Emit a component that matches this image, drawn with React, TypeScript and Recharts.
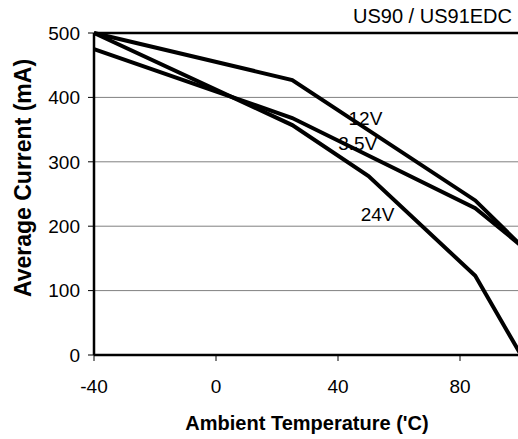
import { CartesianGrid, Line, LineChart, ReferenceDot, ReferenceLine, XAxis, YAxis } from "recharts";

// derating curves
const temps12 = [-40, 25, 85, 100];
const current12 = [500, 427, 240, 170];
const temps35 = [-40, 25, 85, 100];
const current35 = [475, 368, 228, 170];
const temps24 = [-40, 25, 50, 85, 100];
const current24 = [500, 357, 278, 123, 0];

const xTicks = [-40, 0, 40, 80];
const yTicks = [0, 100, 200, 300, 400, 500];

// where the curve names sit (data coords)
const curveLabels = [
  { name: "12V", x: 49, y: 368 },
  { name: "3.5V", x: 46.5, y: 329 },
  { name: "24V", x: 53, y: 218 },
];

const toRows = (xs: number[], ys: number[]) => xs.map((t, i) => ({ t, mA: ys[i] }));

const font = "'Liberation Sans', Arial, sans-serif";

export default function App() {
  return (
    <div
      style={{
        position: "absolute",
        left: 0,
        top: 0,
        width: 518,
        height: 439,
        overflow: "hidden",
        background: "#fff",
        fontFamily: font,
      }}
    >
      <LineChart width={521} height={439} margin={{ top: 33, right: 0, bottom: 0, left: 0 }}>
        <CartesianGrid vertical={false} stroke="#808080" strokeWidth={1} />
        <XAxis
          type="number"
          dataKey="t"
          domain={[-40, 100]}
          ticks={xTicks}
          height={84}
          axisLine={{ stroke: "#000", strokeWidth: 2.5 }}
          tickLine={{ stroke: "#000" }}
          tickSize={6}
          tickMargin={19}
          tick={{ fill: "#000", fontSize: 19, fontFamily: font }}
          allowDuplicatedCategory={false}
        />
        <YAxis
          type="number"
          domain={[0, 500]}
          ticks={yTicks}
          width={94}
          axisLine={{ stroke: "#000", strokeWidth: 2.5 }}
          tickLine={{ stroke: "#000" }}
          tickSize={6}
          tickMargin={8}
          tick={{ fill: "#000", fontSize: 19, fontFamily: font }}
        />
        <ReferenceLine y={500} stroke="#000" strokeWidth={2.5} />
        <Line data={toRows(temps12, current12)} dataKey="mA" type="linear" stroke="#000" strokeWidth={4} dot={false} isAnimationActive={false} />
        <Line data={toRows(temps35, current35)} dataKey="mA" type="linear" stroke="#000" strokeWidth={4} dot={false} isAnimationActive={false} />
        <Line data={toRows(temps24, current24)} dataKey="mA" type="linear" stroke="#000" strokeWidth={4} dot={false} isAnimationActive={false} />
        {curveLabels.map((l) => (
          <ReferenceDot
            key={l.name}
            x={l.x}
            y={l.y}
            r={0}
            fill="none"
            stroke="none"
            label={{ value: l.name, position: "center", fill: "#000", fontSize: 19, fontFamily: font }}
          />
        ))}
      </LineChart>
      <div style={{ position: "absolute", right: 6, top: 6, fontSize: 20, lineHeight: 1, whiteSpace: "nowrap" }}>
        US90 / US91EDC
      </div>
      <div
        style={{
          position: "absolute",
          left: 307,
          top: 413,
          transform: "translateX(-50%)",
          fontSize: 20,
          fontWeight: "bold",
          lineHeight: 1,
          whiteSpace: "nowrap",
        }}
      >
        Ambient Temperature ('C)
      </div>
      <div
        style={{
          position: "absolute",
          left: 23,
          top: 178,
          transform: "translate(-50%, -50%) rotate(-90deg)",
          fontSize: 23,
          fontWeight: "bold",
          lineHeight: 1,
          whiteSpace: "nowrap",
        }}
      >
        Average Current (mA)
      </div>
    </div>
  );
}
